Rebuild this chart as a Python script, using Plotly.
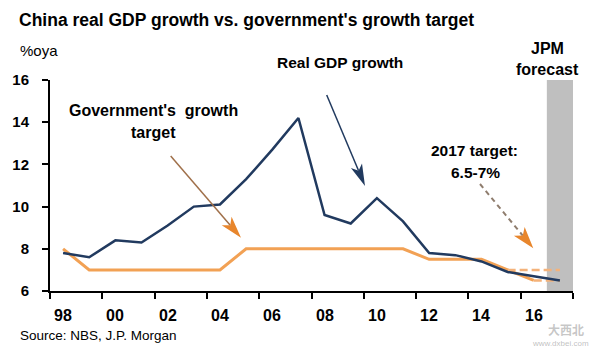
import math
import plotly.graph_objects as go

# ---------------- data ----------------
years = list(range(1998, 2018))
real_gdp = [7.8, 7.6, 8.4, 8.3, 9.1, 10.0, 10.1, 11.3, 12.7, 14.2,
            9.6, 9.2, 10.4, 9.3, 7.8, 7.7, 7.4, 6.9, 6.7, 6.5]
target_years = list(range(1998, 2017))
gov_target = [8.0, 7.0, 7.0, 7.0, 7.0, 7.0, 7.0, 8.0, 8.0, 8.0,
              8.0, 8.0, 8.0, 8.0, 7.5, 7.5, 7.5, 7.0, 6.5]
target_hi_years = [2015, 2017]
target_hi = [7.0, 7.0]
target_lo_years = [2016, 2017]
target_lo = [6.5, 6.5]
forecast_span = [2016.5, 2017.5]
tick_years = list(range(1998, 2017, 2))
tick_text = [f"{y % 100:02d}" for y in tick_years]
y_ticks = [6, 8, 10, 12, 14, 16]

BLUE = "#213a5f"
ORANGE = "#f2a154"
ORANGE_DARK = "#e8862c"
FONT = "Arial, Liberation Sans, sans-serif"

# plot geometry (pixels) used to place decorations
L, R, T, B = 50, 573, 80, 291
X0, X1 = 1997.5, 2017.5
Y0, Y1 = 6, 16


def dx(px):
    return X0 + (px - L) / (R - L) * (X1 - X0)


def dy(py):
    return Y0 + (B - py) / (B - T) * (Y1 - Y0)


def pxp(px):
    return (px - L) / (R - L)


def pyp(py):
    return (B - py) / (B - T)


fig = go.Figure()

fig.add_trace(go.Scatter(x=target_years, y=gov_target, mode="lines",
                         line=dict(color=ORANGE, width=3), hoverinfo="skip"))
fig.add_trace(go.Scatter(x=target_hi_years, y=target_hi, mode="lines",
                         line=dict(color="#f4b27a", width=2.5, dash="8px,4px"), hoverinfo="skip"))
fig.add_trace(go.Scatter(x=target_lo_years, y=target_lo, mode="lines",
                         line=dict(color="#f4b27a", width=2.5, dash="8px,4px"), hoverinfo="skip"))
fig.add_trace(go.Scatter(x=years, y=real_gdp, mode="lines",
                         line=dict(color=BLUE, width=2.5), hoverinfo="skip"))

shapes = [dict(type="rect", xref="x", yref="y", x0=forecast_span[0], x1=forecast_span[1],
               y0=Y0, y1=Y1, fillcolor="#bfbfbf", line=dict(width=0), layer="below")]


def arrow(tail, tip, head_len, half_w, shaft_color, head_color, dash="solid", width=1.5):
    ux, uy = tip[0] - tail[0], tip[1] - tail[1]
    n = math.hypot(ux, uy)
    ux, uy = ux / n, uy / n
    bx, by = tip[0] - ux * head_len, tip[1] - uy * head_len
    nx, ny = -uy, ux
    notch = (bx + ux * head_len * 0.25, by + uy * head_len * 0.25)
    out = [dict(type="line", xref="x", yref="y", x0=dx(tail[0]), y0=dy(tail[1]),
                x1=dx(notch[0]), y1=dy(notch[1]),
                line=dict(color=shaft_color, width=width, dash=dash))]
    pts = [tip, (bx + nx * half_w, by + ny * half_w), notch, (bx - nx * half_w, by - ny * half_w)]
    path = "M " + " L ".join(f"{dx(p[0])},{dy(p[1])}" for p in pts) + " Z"
    out.append(dict(type="path", xref="x", yref="y", path=path,
                    fillcolor=head_color, line=dict(width=0)))
    return out


shapes += arrow((326.7, 95), (365, 186), 22, 6, BLUE, BLUE, width=1.5)
shapes += arrow((170.7, 156), (241, 237.7), 22, 6.5, "#a0704a", ORANGE_DARK, width=1.5)
shapes += arrow((480, 184), (533.3, 248.3), 22, 7, "#8f7d6e", ORANGE_DARK, dash="5px,4px", width=2)

ann = []


def txt(text, px, py, size, bold=True, anchor="center", color="black", family=FONT):
    ann.append(dict(text=f"<b>{text}</b>" if bold else text, x=pxp(px), y=pyp(py),
                    xref="paper", yref="paper", xanchor=anchor, yanchor="middle",
                    showarrow=False, font=dict(family=family, size=size, color=color)))


txt("China real GDP growth vs. government's growth target", 17, 20, 17.5, anchor="left")
txt("%oya", 17.5, 50, 15, bold=False, anchor="left")
txt("Source: NBS, J.P. Morgan", 18, 335, 13.5, bold=False, anchor="left")
txt("Real GDP growth", 340, 63, 15.5)
txt("Government's  growth", 153, 110, 16)
txt("target", 153, 132, 16)
txt("2017 target:", 474, 150, 15.5)
txt("6.5-7%", 475, 172, 15.5)
txt("JPM", 547, 48, 16)
txt("forecast", 547, 70, 16)
txt("大西北", 566, 329, 12, color="rgba(150,150,150,0.55)", family="Noto Sans CJK SC")
txt("www.dxbei.com", 560, 343, 8, bold=False, color="rgba(150,150,150,0.6)")

# x-axis category labels (placed between the boundary ticks)
for yr, lab in zip(tick_years, tick_text):
    ann.append(dict(text=f"<b>{lab}</b>", x=yr, xref="x", y=pyp(315), yref="paper",
                    xanchor="center", yanchor="middle", showarrow=False,
                    font=dict(family=FONT, size=16, color="black")))

minor_ticks = [y - 0.5 for y in range(1998, 2019, 2)]

fig.update_layout(
    width=594, height=350,
    margin=dict(l=L, r=594 - R, t=T, b=350 - B),
    paper_bgcolor="white", plot_bgcolor="white",
    showlegend=False,
    shapes=shapes, annotations=ann,
    font=dict(family=FONT, color="black"),
    xaxis=dict(range=[X0, X1], tickmode="array", tickvals=minor_ticks,
               ticktext=["" for _ in minor_ticks],
               ticks="outside", ticklen=6, tickwidth=2, tickcolor="black",
               showgrid=False, zeroline=False,
               showline=True, linecolor="black", linewidth=2),
    yaxis=dict(range=[Y0, Y1], tickmode="array", tickvals=y_ticks,
               ticks="outside", ticklen=6, tickwidth=2, tickcolor="black",
               showgrid=False, zeroline=False,
               showline=True, linecolor="black", linewidth=2,
               tickfont=dict(family=FONT, size=15, color="black", weight="bold"),
               ticklabelstandoff=10),
)

fig.write_html("out.html")
